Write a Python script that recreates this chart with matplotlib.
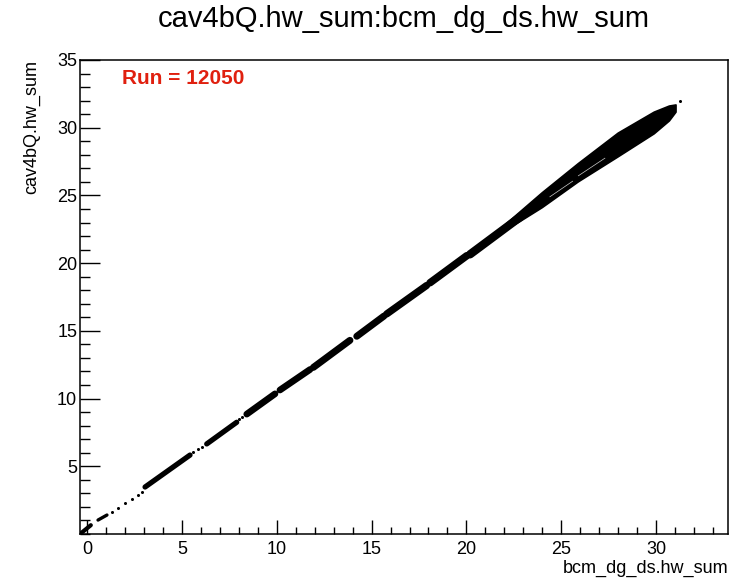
import matplotlib
matplotlib.use("Agg")
import matplotlib.pyplot as plt
from matplotlib.ticker import MultipleLocator

# ---- data ----
title = "cav4bQ.hw_sum:bcm_dg_ds.hw_sum"
x_title = "bcm_dg_ds.hw_sum"
y_title = "cav4bQ.hw_sum"
run_label = "Run = 12050"

# dense clusters along the correlation (start/end in data units)
clus_x0 = [-0.37, 0.58, 3.06, 6.31, 8.42, 10.17, 11.93, 14.22, 15.80, 18.08, 20.19]
clus_y0 = [0.00, 1.03, 3.47, 6.65, 8.85, 10.63, 12.30, 14.60, 16.25, 18.55, 20.65]
clus_x1 = [0.20, 1.05, 5.43, 7.89, 9.91, 11.76, 13.86, 15.66, 17.90, 20.02, 22.83]
clus_y1 = [0.65, 1.40, 5.83, 8.25, 10.35, 12.15, 14.30, 16.10, 18.35, 20.55, 23.40]

# isolated events
dot_x = [1.30, 1.65, 2.00, 2.36, 2.70, 2.88, 5.60, 5.86, 6.05, 8.00, 8.16, 31.26]
dot_y = [1.65, 1.90, 2.27, 2.56, 2.88, 3.12, 6.08, 6.25, 6.45, 8.50, 8.66, 31.98]

# broad band at high current (upper/lower envelope)
band_x = [21.6, 22.8, 24.0, 25.9, 28.0, 29.9, 30.7, 31.05]
band_hi = [22.30, 23.75, 25.20, 27.35, 29.60, 31.15, 31.60, 31.68]
band_lo = [22.10, 23.05, 24.10, 26.00, 27.85, 29.55, 30.50, 31.15]

# thin light streaks inside the band
gap_x0 = [24.4, 25.9]
gap_y0 = [24.90, 26.45]
gap_x1 = [25.6, 27.3]
gap_y1 = [26.05, 27.75]

# ---- style / layout ----
W, H = 730, 579
fig = plt.figure(figsize=(W / 100, H / 100), dpi=100)
plt.rcParams['font.family'] = ['Liberation Sans', 'DejaVu Sans']
ax = fig.add_axes([80 / W, 1 - 534 / H, (728 - 80) / W, (534 - 60) / H])
ax.set_xlim(-0.37, 33.79)
ax.set_ylim(0, 35)

lws = [3.0, 2.4, 3.8, 3.8, 4.8, 4.8, 5.0, 5.0, 5.2, 5.4, 6.0]
for x0, y0, x1, y1, lw in zip(clus_x0, clus_y0, clus_x1, clus_y1, lws):
    ax.plot([x0, x1], [y0, y1], color='black', lw=lw, solid_capstyle='round')

ax.plot(dot_x, dot_y, 'o', color='black', ms=2.2, mew=0)

poly_x = list(band_x) + list(band_x[::-1])
poly_y = list(band_hi) + list(band_lo[::-1])
ax.fill(poly_x, poly_y, color='black', lw=1.2, ec='black', joinstyle='round')
for x0, y0, x1, y1 in zip(gap_x0, gap_y0, gap_x1, gap_y1):
    ax.plot([x0, x1], [y0, y1], color='white', lw=0.5, alpha=0.8)

ax.xaxis.set_major_locator(MultipleLocator(5))
ax.xaxis.set_minor_locator(MultipleLocator(1))
ax.yaxis.set_minor_locator(MultipleLocator(1))
ax.set_yticks([5, 10, 15, 20, 25, 30, 35])

ax.tick_params(axis='x', which='major', direction='in', length=10, width=1.0,
               labelsize=13, pad=5, top=False)
ax.tick_params(axis='x', which='minor', direction='in', length=5, width=1.0, top=False)
ax.tick_params(axis='y', which='major', direction='in', length=14.4, width=1.0,
               labelsize=13, pad=2, right=False)
ax.tick_params(axis='y', which='minor', direction='in', length=7.2, width=1.0, right=False)
for s in ax.spines.values():
    s.set_linewidth(1.1)

fig.text(404 / W, 1 - 19 / H, title, ha='center', va='center', fontsize=21)
fig.text(728 / W, 1 - 568 / H, x_title, ha='right', va='center', fontsize=13)
fig.text(32 / W, 1 - 60 / H, y_title, ha='center', va='top', rotation=90, fontsize=13)
ax.text(0.065, 0.962, run_label, transform=ax.transAxes, ha='left', va='center',
        fontsize=15, fontweight='bold', color='#e0200f')

fig.savefig("out.png", dpi=100)
